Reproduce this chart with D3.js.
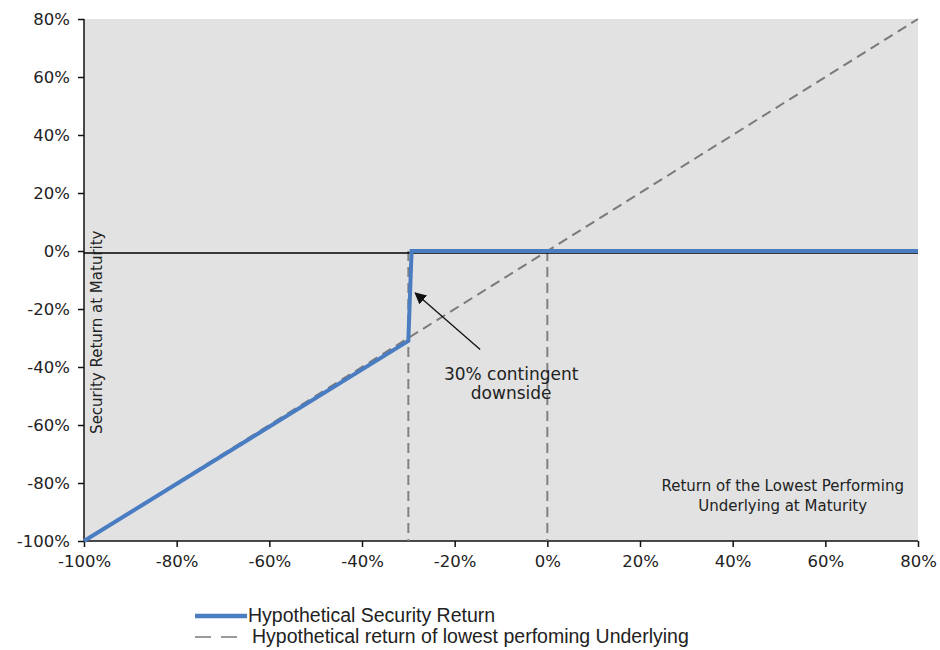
<!DOCTYPE html>
<html>
<head>
<meta charset="utf-8">
<script src="https://cdn.jsdelivr.net/npm/d3@7"></script>
<style>
  body { margin: 0; background: #fff; }
  svg text { font-family: "DejaVu Sans", Verdana, sans-serif; }
</style>
</head>
<body>
<div id="chart"></div>
<script>
// Tick values (percent)
var xTicks = [-100, -80, -60, -40, -20, 0, 20, 40, 60, 80];
var yTicks = [-100, -80, -60, -40, -20, 0, 20, 40, 60, 80];

// Hypothetical security return (x = underlying return, y = security return)
var securityX = [-100, -30, -29.3, 80];
var securityY = [-100, -31, 0, 0];

// Hypothetical return of lowest performing underlying
var underlyingX = [-100, 80];
var underlyingY = [-100, 80];

// Vertical reference lines
var refX = [-30, 0];

var width = 940, height = 650;
var margin = { top: 19, right: 22, bottom: 109, left: 84 };

var svg = d3.select("#chart").append("svg")
  .attr("width", width)
  .attr("height", height);

var x = d3.scaleLinear().domain([-100, 80]).range([margin.left, width - margin.right]);
var y = d3.scaleLinear().domain([-100, 80]).range([height - margin.bottom, margin.top]);

// Plot background
svg.append("rect")
  .attr("x", x(-100)).attr("y", y(80))
  .attr("width", x(80) - x(-100))
  .attr("height", y(-100) - y(80))
  .attr("fill", "#e1e2e1");

// Axes
var xAxis = d3.axisBottom(x).tickValues(xTicks).tickSize(6).tickPadding(8)
  .tickFormat(function (d) { return d + "%"; });
var yAxis = d3.axisLeft(y).tickValues(yTicks).tickSize(6).tickPadding(8)
  .tickFormat(function (d) { return d + "%"; });

var gx = svg.append("g")
  .attr("transform", "translate(0," + y(-100) + ")")
  .call(xAxis);
var gy = svg.append("g")
  .attr("transform", "translate(" + x(-100) + ",0)")
  .call(yAxis);

[gx, gy].forEach(function (g) {
  g.select(".domain").attr("stroke", "#111").attr("stroke-width", 1.5);
  g.selectAll(".tick line").attr("stroke", "#111").attr("stroke-width", 1.5);
  g.selectAll(".tick text")
    .attr("font-size", "16.5px")
    .attr("fill", "#222");
});
gy.select(".domain").attr("d", "M0," + y(80) + "V" + y(-100));
gx.select(".domain").attr("d", "M" + x(-100) + ",0H" + x(80));

// Vertical dashed reference lines
svg.selectAll(".ref")
  .data(refX)
  .enter()
  .append("line")
  .attr("x1", function (d) { return x(d); })
  .attr("x2", function (d) { return x(d); })
  .attr("y1", y(0))
  .attr("y2", y(-100))
  .attr("stroke", "#808080")
  .attr("stroke-width", 2)
  .attr("stroke-dasharray", "10,6");

// Diagonal dashed underlying line
var line = d3.line().x(function (d) { return x(d[0]); }).y(function (d) { return y(d[1]); });

svg.append("path")
  .datum(d3.zip(underlyingX, underlyingY))
  .attr("d", line)
  .attr("fill", "none")
  .attr("stroke", "#7a7a7a")
  .attr("stroke-width", 2)
  .attr("stroke-dasharray", "10,6");

// Zero line (black)
svg.append("line")
  .attr("x1", x(-100)).attr("x2", x(80))
  .attr("y1", y(0) + 2).attr("y2", y(0) + 2)
  .attr("stroke", "#000")
  .attr("stroke-width", 1.5);

// Security return (blue)
svg.append("path")
  .datum(d3.zip(securityX, securityY))
  .attr("d", line)
  .attr("fill", "none")
  .attr("stroke", "#4a7cc2")
  .attr("stroke-width", 4)
  .attr("stroke-linejoin", "miter");

// Annotation arrow
svg.append("defs").append("marker")
  .attr("id", "arrow")
  .attr("viewBox", "0 0 10 10")
  .attr("refX", 9).attr("refY", 5)
  .attr("markerWidth", 9).attr("markerHeight", 9)
  .attr("orient", "auto")
  .append("path")
  .attr("d", "M0,0L10,5L0,10z")
  .attr("fill", "#111");

svg.append("line")
  .attr("x1", x(-14.5)).attr("y1", y(-34))
  .attr("x2", x(-28.5)).attr("y2", y(-14.5))
  .attr("stroke", "#111")
  .attr("stroke-width", 1.3)
  .attr("marker-end", "url(#arrow)");

var note = svg.append("text")
  .attr("text-anchor", "middle")
  .attr("font-size", "17px")
  .attr("fill", "#222");
note.append("tspan").attr("x", x(-7.8)).attr("y", y(-44.5)).text("30% contingent");
note.append("tspan").attr("x", x(-7.8)).attr("y", y(-51)).text("downside");

// Axis titles
svg.append("text")
  .attr("transform", "translate(" + (x(-100) + 18) + "," + y(-28) + ") rotate(-90)")
  .attr("text-anchor", "middle")
  .attr("font-size", "15px")
  .attr("fill", "#222")
  .text("Security  Return at Maturity");

var xt = svg.append("text")
  .attr("text-anchor", "middle")
  .attr("font-size", "15px")
  .attr("fill", "#222");
xt.append("tspan").attr("x", x(50.8)).attr("y", y(-82.6)).text("Return  of the Lowest Performing");
xt.append("tspan").attr("x", x(50.8)).attr("y", y(-89.5)).text("Underlying  at Maturity");

// Legend
var legendItems = [
  { label: "Hypothetical Security Return", color: "#4a7cc2", width: 4.5, dash: null, x1: 195, x2: 247, tx: 248, y: 616 },
  { label: "Hypothetical return of lowest perfoming Underlying", color: "#7a7a7a", width: 1.5, dash: "16,10", x1: 195, x2: 237, tx: 252, y: 637 }
];

var legend = svg.append("g");
legendItems.forEach(function (d) {
  legend.append("line")
    .attr("x1", d.x1).attr("x2", d.x2)
    .attr("y1", d.y).attr("y2", d.y)
    .attr("stroke", d.color)
    .attr("stroke-width", d.width)
    .attr("stroke-dasharray", d.dash);
  legend.append("text")
    .attr("x", d.tx).attr("y", d.y + 6)
    .style("font-family", "'Liberation Sans', Arial, sans-serif")
    .attr("font-size", "19.5px")
    .attr("fill", "#222")
    .text(d.label);
});
</script>
</body>
</html>
